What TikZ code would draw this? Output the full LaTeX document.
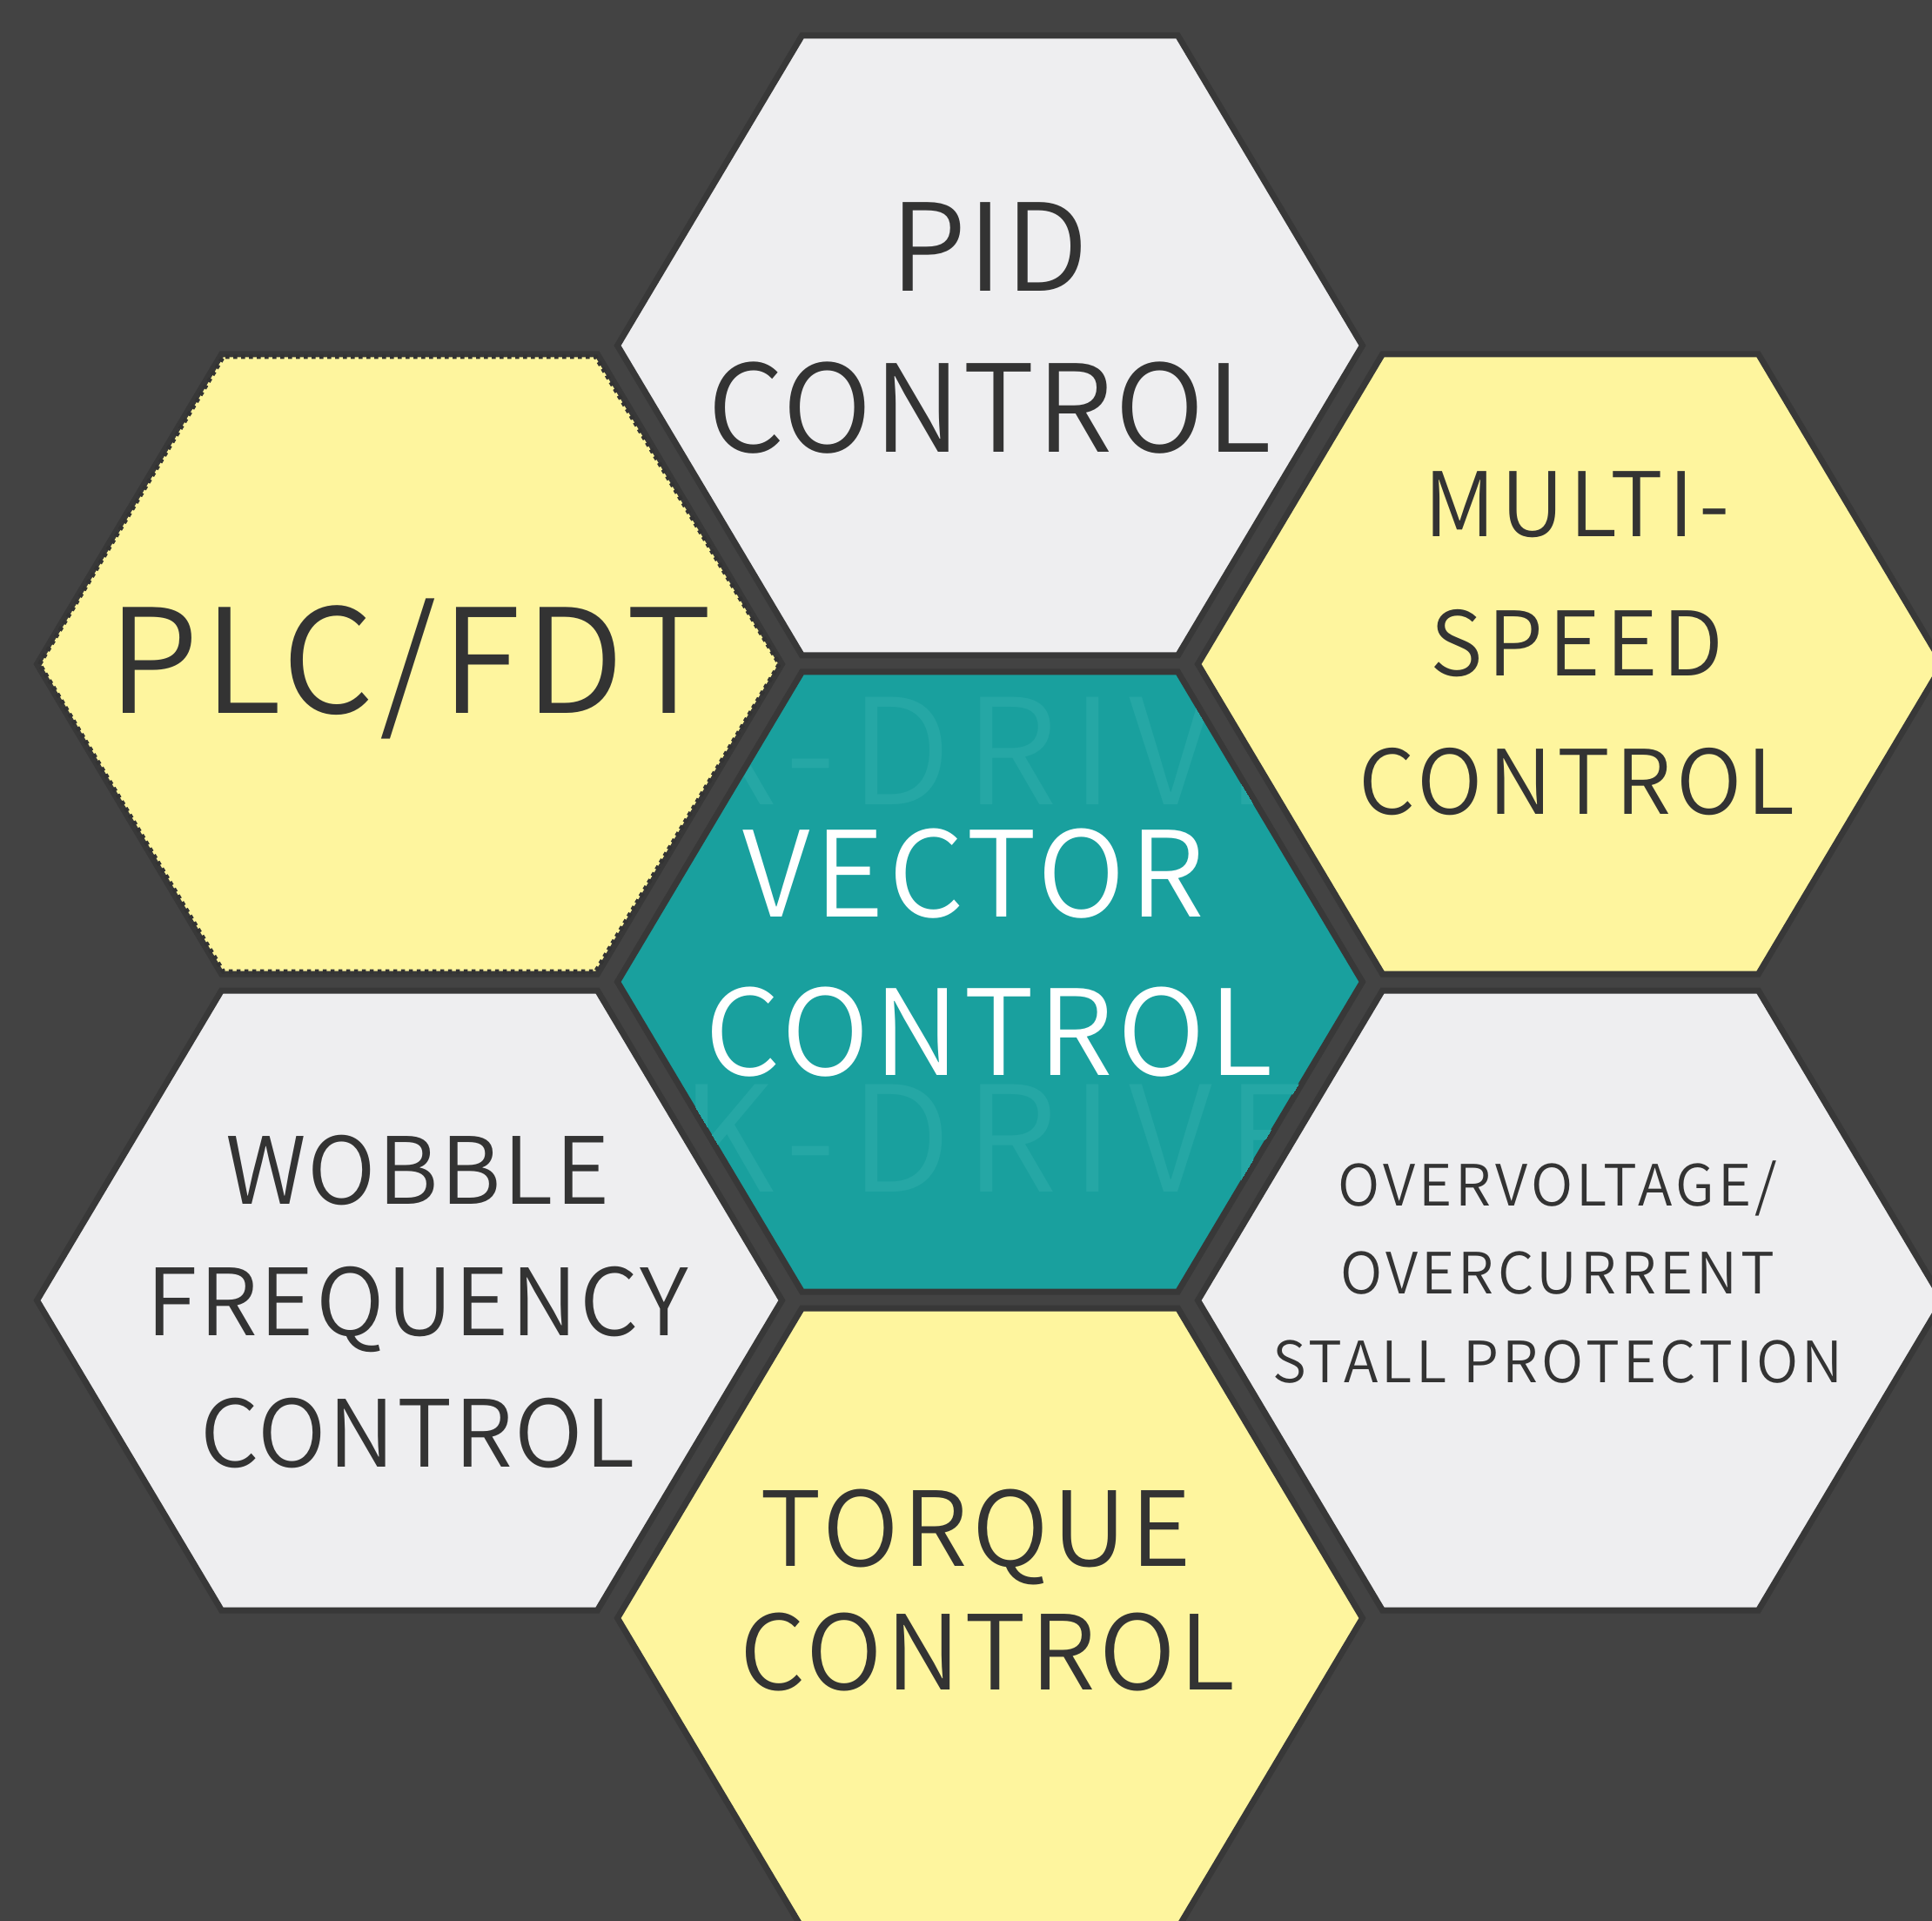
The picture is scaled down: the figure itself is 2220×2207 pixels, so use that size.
\documentclass[tikz,border=0pt]{standalone}
\usepackage{fontspec}
\IfFontExistsTF{Noto Sans CJK SC DemiLight}
  {\setmainfont{Noto Sans CJK SC DemiLight}}
  {\setmainfont{Noto Sans CJK SC}}
\usepackage{tikz}

\definecolor{bgdark}{HTML}{434343}
\definecolor{gapdark}{HTML}{383838}
\definecolor{cellgray}{HTML}{EEEEF0}
\definecolor{cellyellow}{HTML}{FEF59E}
\definecolor{cellteal}{HTML}{19A09E}
\definecolor{markteal}{HTML}{25A7A5}
\definecolor{textdark}{HTML}{333333}

% font size, line skip, tracking
\newcommand{\capfont}[3]{\fontsize{#1}{#2}\selectfont\addfontfeatures{LetterSpace=#3}}

\begin{document}
\begin{tikzpicture}[x=0.1mm,y=-0.1mm,
    cell/.style={draw=gapdark,line width=0.7mm,line join=miter},
    caption/.style={text=textdark,align=center,inner sep=0pt},
    watermark/.style={text=markteal,font=\capfont{48}{48}{10},anchor=base west,inner sep=0pt},
  ]
    % Page and background
    \useasboundingbox (0,0) rectangle (2220,2207);
    \fill[bgdark] (0,0) rectangle (2220,2207);
    % Honeycomb cells (centre x / centre y / colour)
    \foreach \cx/\cy/\col in {1137.5/397/cellgray,470.5/763/cellyellow,
        1804.5/763/cellyellow,1137.5/1128/cellteal,470.5/1494/cellgray,
        1804.5/1494/cellgray,1137.5/1859/cellyellow} {
      \filldraw[cell,fill=\col,shift={(\cx,\cy)}]
        (-428,0) -- (-216,-356) -- (216,-356) -- (428,0) -- (216,356) -- (-216,356) -- cycle;
    }
    % Pinked edge of the PLC cell
    \draw[textdark,line width=0.5mm,dash pattern=on 0.45mm off 0.45mm,shift={(470.5,763)}]
      (-425,0) -- (-214,-353) -- (214,-353) -- (425,0) -- (214,353) -- (-214,353) -- cycle;
    % Faint mark inside the centre cell
    \begin{scope}
      \clip[shift={(1137.5,1128)}]
        (-425,0) -- (-213,-353) -- (213,-353) -- (425,0) -- (213,353) -- (-213,353) -- cycle;
      \node[watermark] (markup) at (782,925) {K-DRIVE};
      \node[watermark] (marklow) at (782,1369) {K-DRIVE};
    \end{scope}
    % Labels
    \node[caption,font=\capfont{39.6}{52.4}{1.7}] (pid) at (1137,377) {PID\\CONTROL};
    \node[caption,font=\capfont{47.3}{56}{3.6},anchor=base] (plc) at (471,820) {PLC/FDT};
    \node[caption,font=\capfont{29.1}{45.4}{5.8}] (multispeed) at (1812,739.5) {MULTI-\\SPEED\\CONTROL};
    \node[caption,text=white,font=\capfont{38.8}{51.8}{3.8}] (vector) at (1137,1094.5) {VECTOR\hspace*{3.6mm}\\CONTROL};
    \node[caption,font=\capfont{30.3}{43.1}{2.3}] (wobble) at (480,1495.5) {WOBBLE\\FREQUENCY\\CONTROL};
    \node[caption,font=\capfont{18.6}{28.9}{6.5}] (stall) at (1790,1461.5) {OVERVOLTAGE/\\OVERCURRENT\\STALL PROTECTION};
    \node[caption,font=\capfont{33.8}{40.4}{4}] (torque) at (1135,1827.5) {TORQUE\hspace*{2.8mm}\\CONTROL};
\end{tikzpicture}
\end{document}
